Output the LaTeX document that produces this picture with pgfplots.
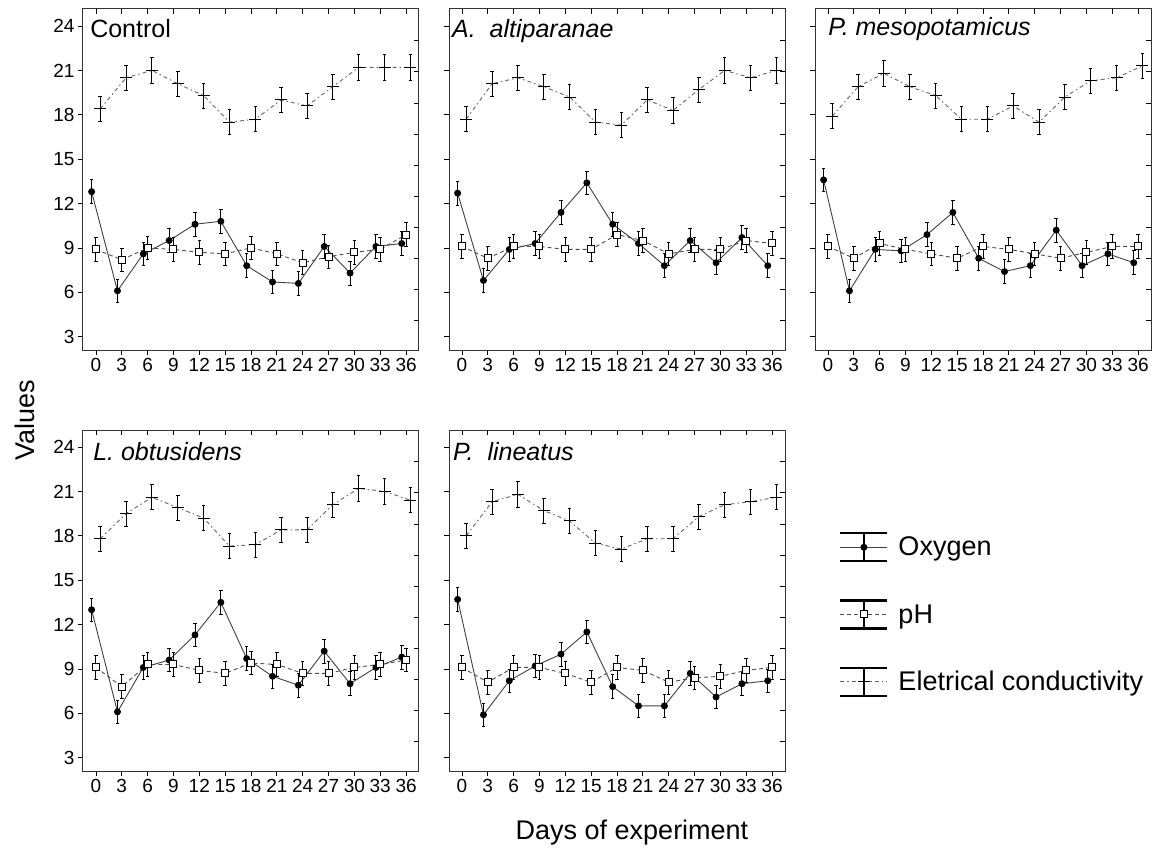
\documentclass[border=0pt]{standalone}
\usepackage{fontspec}
\setmainfont{Liberation Sans}
\usepackage{pgfplots}
\usepackage{pgfplotstable}
\pgfplotsset{compat=1.18}

% day, oxygen, pH, electrical conductivity
\pgfplotstableread{
day ox ph ec
0 12.8 8.9 18.4
3 6.1 8.2 20.5
6 8.6 9.0 21.0
9 9.5 8.9 20.1
12 10.6 8.7 19.3
15 10.8 8.6 17.5
18 7.8 9.0 17.7
21 6.7 8.6 19.0
24 6.6 8.0 18.6
27 9.1 8.4 19.9
30 7.3 8.7 21.2
33 9.1 8.9 21.2
36 9.3 9.9 21.2
}\control
\pgfplotstableread{
day ox ph ec
0 12.7 9.1 17.7
3 6.8 8.3 20.1
6 8.9 9.1 20.5
9 9.3 9.1 19.9
12 11.4 8.9 19.2
15 13.4 8.9 17.5
18 10.6 9.9 17.3
21 9.3 9.5 19.0
24 7.8 8.6 18.3
27 9.5 8.9 19.7
30 8.0 8.9 21.0
33 9.7 9.5 20.5
36 7.8 9.3 21.0
}\altip
\pgfplotstableread{
day ox ph ec
0 13.6 9.1 17.9
3 6.1 8.3 19.9
6 8.9 9.3 20.8
9 8.8 8.9 19.9
12 9.9 8.6 19.3
15 11.4 8.3 17.7
18 8.3 9.1 17.7
21 7.4 8.9 18.6
24 7.8 8.6 17.5
27 10.2 8.3 19.2
30 7.8 8.7 20.3
33 8.6 9.1 20.5
36 8.0 9.1 21.3
}\meso
\pgfplotstableread{
day ox ph ec
0 13.0 9.1 17.8
3 6.1 7.8 19.5
6 9.1 9.3 20.6
9 9.6 9.3 19.9
12 11.3 8.9 19.2
15 13.5 8.7 17.3
18 9.7 9.4 17.4
21 8.5 9.3 18.4
24 7.9 8.7 18.4
27 10.2 8.7 20.1
30 8.0 9.1 21.2
33 9.1 9.3 21.0
36 9.8 9.6 20.4
}\obtus
\pgfplotstableread{
day ox ph ec
0 13.7 9.1 18.0
3 5.9 8.1 20.3
6 8.2 9.1 20.8
9 9.2 9.1 19.7
12 10.0 8.7 19.0
15 11.5 8.1 17.5
18 7.8 9.1 17.1
21 6.5 8.9 17.8
24 6.5 8.1 17.8
27 8.7 8.4 19.3
30 7.1 8.5 20.1
33 8.0 8.9 20.3
36 8.2 9.1 20.6
}\lineat

\pgfplotsset{
  panel/.style={width=336pt, height=341pt, scale only axis,
    xmin=-1.5, xmax=37.5, ymin=2.1, ymax=25.15,
    xtick={0,3,...,36}, ytick={3,6,...,24},
    xtick pos=bottom, ytick pos=left, tick align=outside,
    major tick length=5pt, tick style={black, line width=0.8pt},
    axis line style={black!80, line width=1pt},
    tick label style={font=\fontsize{19}{22}\selectfont},
    /pgf/number format/assume math mode=true},
  overticks/.style={panel, axis line style={draw=none},
    xtick pos=top, ytick pos=right, tick align=inside,
    ytick={4.1,6.2,8.3,10.4,12.5,14.6,16.7,18.8,20.95,23.05},
    xticklabels={}, yticklabels={}},
  errs/.style={error bars/y dir=both, error bars/y fixed=#1,
    error bars/error mark=-,
    error bars/error mark options={rotate=90, mark size=1.8pt, black, line width=0.8pt, solid},
    error bars/error bar style={black, line width=0.9pt, solid}},
  ox/.style={errs=0.8, black!75, line width=0.9pt, mark=*, mark size=3pt,
    mark options={solid, fill=black, draw=black}},
  ph/.style={errs=0.8, black!70, line width=0.9pt, dash pattern=on 4pt off 3pt,
    mark=square*, mark size=3.5pt,
    mark options={solid, fill=white, draw=black, line width=1pt}},
  ec/.style={errs=0.85, black!60, line width=0.9pt, dash pattern=on 4pt off 3pt on 1.5pt off 3pt,
    mark=-, mark size=6pt, mark options={solid, black, line width=1pt}},
  glyph/.style={legend image code/.code={
    \draw[solid, black, line width=2.2pt] (0pt,14pt) -- (47pt,14pt) (0pt,-14pt) -- (47pt,-14pt);
    \draw[solid, black, line width=1.5pt] (23.5pt,-14pt) -- (23.5pt,14pt);
    \draw[mark repeat=2, mark phase=2, ##1] plot coordinates {(0pt,0pt) (23.5pt,0pt) (47pt,0pt)};}}
}
\tikzset{ttl/.style={anchor=west, inner sep=0pt, font=\fontsize{25}{30}\selectfont}}

\newcommand{\series}[1]{%
  \addplot[ox, glyph] table[x expr=\thisrow{day}-0.5, y=ox] {#1};
  \addplot[ph, glyph] table[x=day, y=ph] {#1};
  \addplot[ec, glyph] table[x expr=\thisrow{day}+0.5, y=ec] {#1};
}

\begin{document}
\begin{tikzpicture}
\path[use as bounding box] (0pt,0pt) rectangle (1152pt,-853pt);

% row 1
\begin{axis}[panel, at={(83pt,-350pt)}, anchor=south west]
\series{\control}
\node[ttl] at (rel axis cs:0.021,0.944) {Control};
\end{axis}
\begin{axis}[overticks, at={(83pt,-350pt)}, anchor=south west]
\end{axis}

\begin{axis}[panel, at={(449pt,-350pt)}, anchor=south west, yticklabels={}]
\series{\altip}
\node[ttl] at (rel axis cs:0.009,0.936) {\itshape A.\ \ altiparanae};
\end{axis}
\begin{axis}[overticks, at={(449pt,-350pt)}, anchor=south west]
\end{axis}

\begin{axis}[panel, at={(815pt,-350pt)}, anchor=south west, yticklabels={}]
\series{\meso}
\node[ttl] at (rel axis cs:0.039,0.94) {\itshape P. mesopotamicus};
\end{axis}
\begin{axis}[overticks, at={(815pt,-350pt)}, anchor=south west]
\end{axis}

% row 2
\begin{axis}[panel, at={(83pt,-771pt)}, anchor=south west]
\series{\obtus}
\node[ttl] at (rel axis cs:0.03,0.936) {\itshape L. obtusidens};
\end{axis}
\begin{axis}[overticks, at={(83pt,-771pt)}, anchor=south west]
\end{axis}

\begin{axis}[panel, at={(449pt,-771pt)}, anchor=south west, yticklabels={},
  legend style={at={(1.161,0.701)}, anchor=north west, draw=none, fill=none,
    font=\fontsize{27}{32}\selectfont, row sep=37pt, column sep=8pt, inner sep=0pt},
  legend cell align=left]
\series{\lineat}
\node[ttl] at (rel axis cs:0.012,0.936) {\itshape P.\ \ lineatus};
\legend{Oxygen, pH, Eletrical conductivity}
\end{axis}
\begin{axis}[overticks, at={(449pt,-771pt)}, anchor=south west]
\end{axis}

\node[rotate=90, font=\fontsize{27}{32}\selectfont] at (25pt,-420pt) {Values};
\node[font=\fontsize{27}{32}\selectfont] at (632pt,-833pt) {Days of experiment};
\end{tikzpicture}
\end{document}
